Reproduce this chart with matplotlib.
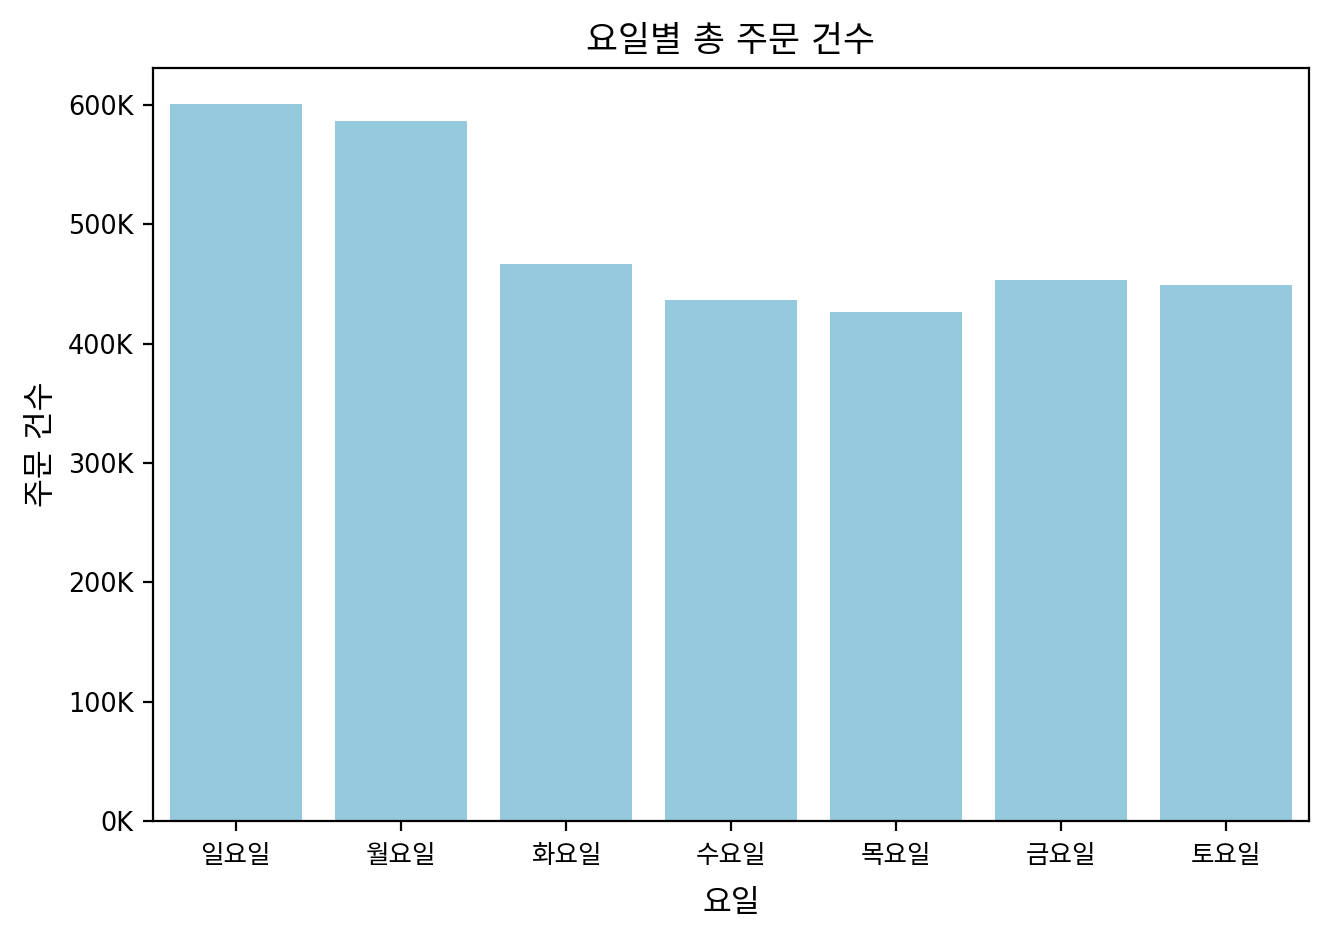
import matplotlib
matplotlib.use("Agg")
import matplotlib.pyplot as plt
import seaborn as sns
from matplotlib.ticker import FuncFormatter

days = ['일요일', '월요일', '화요일', '수요일', '목요일', '금요일', '토요일']
order_counts = [600800, 586600, 467000, 436300, 426300, 453000, 449000]

plt.rcParams['font.family'] = ['DejaVu Sans', 'Noto Sans CJK KR']

fig, ax = plt.subplots(figsize=(6.635, 4.7), dpi=200)
fig.subplots_adjust(left=0.1153, right=0.9864, top=0.9277, bottom=0.1266)

sns.barplot(x=days, y=order_counts, color='skyblue', ax=ax)

ax.yaxis.set_major_formatter(FuncFormatter(lambda v, p: f'{int(v / 1000)}K'))
ax.tick_params(axis='both', labelsize=9.2)
ax.tick_params(axis='x', pad=4.5)
ax.set_title('요일별 총 주문 건수', fontsize=12.5)
ax.set_xlabel('요일', fontsize=11.3, labelpad=7)
ax.set_ylabel('주문 건수', fontsize=11.3, labelpad=4.5)

fig.savefig('out.png', dpi=200)
